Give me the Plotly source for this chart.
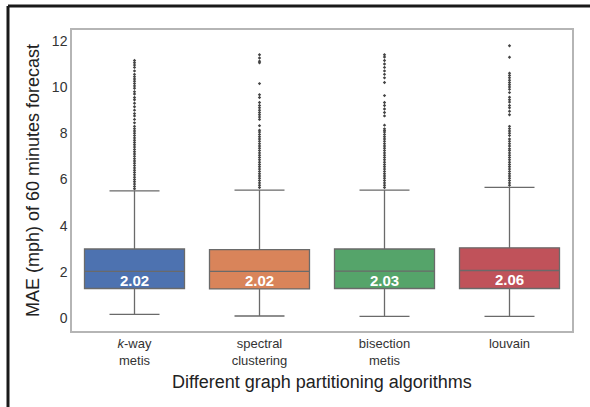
import plotly.graph_objects as go

categories = ["k-way metis", "spectral clustering", "bisection metis", "louvain"]
tick_labels = ["<i>k</i>-way<br>metis", "spectral<br>clustering", "bisection<br>metis", "louvain"]
colors = ["#4d72b0", "#d9845a", "#55a46a", "#c0525a"]

q1 = [1.28, 1.26, 1.28, 1.28]
median = [2.02, 2.02, 2.03, 2.06]
q3 = [2.99, 2.96, 2.99, 3.04]
lower_whisker = [0.16, 0.09, 0.07, 0.07]
upper_whisker = [5.51, 5.54, 5.54, 5.66]
median_labels = ["2.02", "2.02", "2.03", "2.06"]

outliers_kway = [5.6, 5.7, 5.8, 5.9, 6.0, 6.1, 6.2, 6.3, 6.4, 6.5, 6.6, 6.7, 6.8, 6.9,
                 7.0, 7.1, 7.2, 7.3, 7.4, 7.5, 7.6, 7.7, 7.8, 7.9, 8.0, 8.1, 8.2, 8.3,
                 8.45, 8.6, 8.75, 8.85, 9.0, 9.15, 9.3, 9.45, 9.55, 9.7, 9.8, 9.95,
                 10.05, 10.15, 10.25, 10.35, 10.45, 10.55, 10.7, 10.85, 10.95, 11.05, 11.15]
outliers_spectral = [5.65, 5.75, 5.85, 5.95, 6.05, 6.15, 6.25, 6.35, 6.45, 6.55, 6.65, 6.75,
                     6.85, 6.95, 7.05, 7.15, 7.25, 7.35, 7.45, 7.55, 7.65, 7.75, 7.85, 7.95,
                     8.05, 8.13, 8.33, 8.6, 8.7, 8.8, 8.9, 9.0, 9.1, 9.2, 9.33, 9.55, 9.67,
                     10.15, 11.05, 11.12, 11.26, 11.4]
outliers_bisection = [5.65, 5.75, 5.85, 5.95, 6.05, 6.15, 6.25, 6.35, 6.45, 6.55, 6.65, 6.75,
                      6.85, 6.95, 7.05, 7.15, 7.25, 7.35, 7.45, 7.55, 7.65, 7.75, 7.85, 7.95,
                      8.05, 8.12, 8.19, 8.35, 8.75, 8.9, 9.05, 9.2, 9.33, 9.63, 10.2, 10.4,
                      10.55, 10.7, 10.85, 11.0, 11.15, 11.3, 11.4]
outliers_louvain = [5.75, 5.85, 5.95, 6.05, 6.15, 6.25, 6.35, 6.45, 6.55, 6.65, 6.75, 6.85,
                    6.95, 7.05, 7.15, 7.25, 7.33, 7.45, 7.55, 7.65, 7.75, 7.9, 8.0, 8.1, 8.2,
                    8.3, 8.8, 8.95, 9.1, 9.2, 9.35, 9.45, 9.56, 9.76, 9.9, 10.0, 10.1, 10.2,
                    10.3, 10.4, 10.5, 10.6, 11.29, 11.79]
outliers = [outliers_kway, outliers_spectral, outliers_bisection, outliers_louvain]

fig = go.Figure()
for i, cat in enumerate(categories):
    fig.add_trace(go.Box(
        x=[cat], q1=[q1[i]], median=[median[i]], q3=[q3[i]],
        lowerfence=[lower_whisker[i]], upperfence=[upper_whisker[i]],
        fillcolor=colors[i], line=dict(color="#6a6a6a", width=1.3),
        width=0.8, whiskerwidth=0.5, boxpoints=False, showlegend=False,
        hoverinfo="skip",
    ))
    fig.add_trace(go.Scatter(
        x=[cat] * len(outliers[i]), y=outliers[i], mode="markers",
        marker=dict(symbol="diamond", size=2.6, color="#444444"),
        showlegend=False, hoverinfo="skip",
    ))
    fig.add_annotation(
        x=cat, y=median[i], text="<b>" + median_labels[i] + "</b>",
        showarrow=False, yshift=-9, font=dict(color="white", size=15,
                                              family="Liberation Sans, Arial"),
    )

fig.add_annotation(
    xref="paper", yref="paper", x=0.5, y=-0.168, yanchor="middle", xanchor="center",
    text="Different graph partitioning algorithms", showarrow=False,
    font=dict(size=18, color="#222222"),
)

# partial black frame (top and left edges of the figure)
fig.add_shape(type="line", xref="paper", yref="paper", x0=-0.128, x1=1.04,
              y0=1.0797, y1=1.0797, line=dict(color="#1a1a1a", width=3))
fig.add_shape(type="line", xref="paper", yref="paper", x0=-0.128, x1=-0.128,
              y0=1.0797, y1=-0.27, line=dict(color="#1a1a1a", width=3))

fig.update_layout(
    width=590, height=407,
    margin=dict(l=72, r=18, t=30, b=76),
    paper_bgcolor="white", plot_bgcolor="white",
    font=dict(family="Liberation Sans, Arial", color="#333333"),
    boxgap=0.2,
)
fig.update_xaxes(
    type="category", categoryorder="array", categoryarray=categories,
    tickvals=categories, ticktext=tick_labels, tickfont=dict(size=13, color="#333333"),
    range=[-0.5, 3.5], showline=True, mirror=True, linecolor="#b5b5b5", linewidth=1.5,
    showgrid=False, ticks="",
)
fig.update_yaxes(
    range=[-0.56, 12.47], tickvals=[0, 2, 4, 6, 8, 10, 12],
    tickfont=dict(size=14, color="#333333"), showline=True, mirror=True,
    linecolor="#b5b5b5", linewidth=1.5, showgrid=False, zeroline=False, ticks="",
    title=dict(text="MAE (mph) of 60 minutes forecast", font=dict(size=18, color="#222222"),
               standoff=8),
)

fig.write_html("out.html")
